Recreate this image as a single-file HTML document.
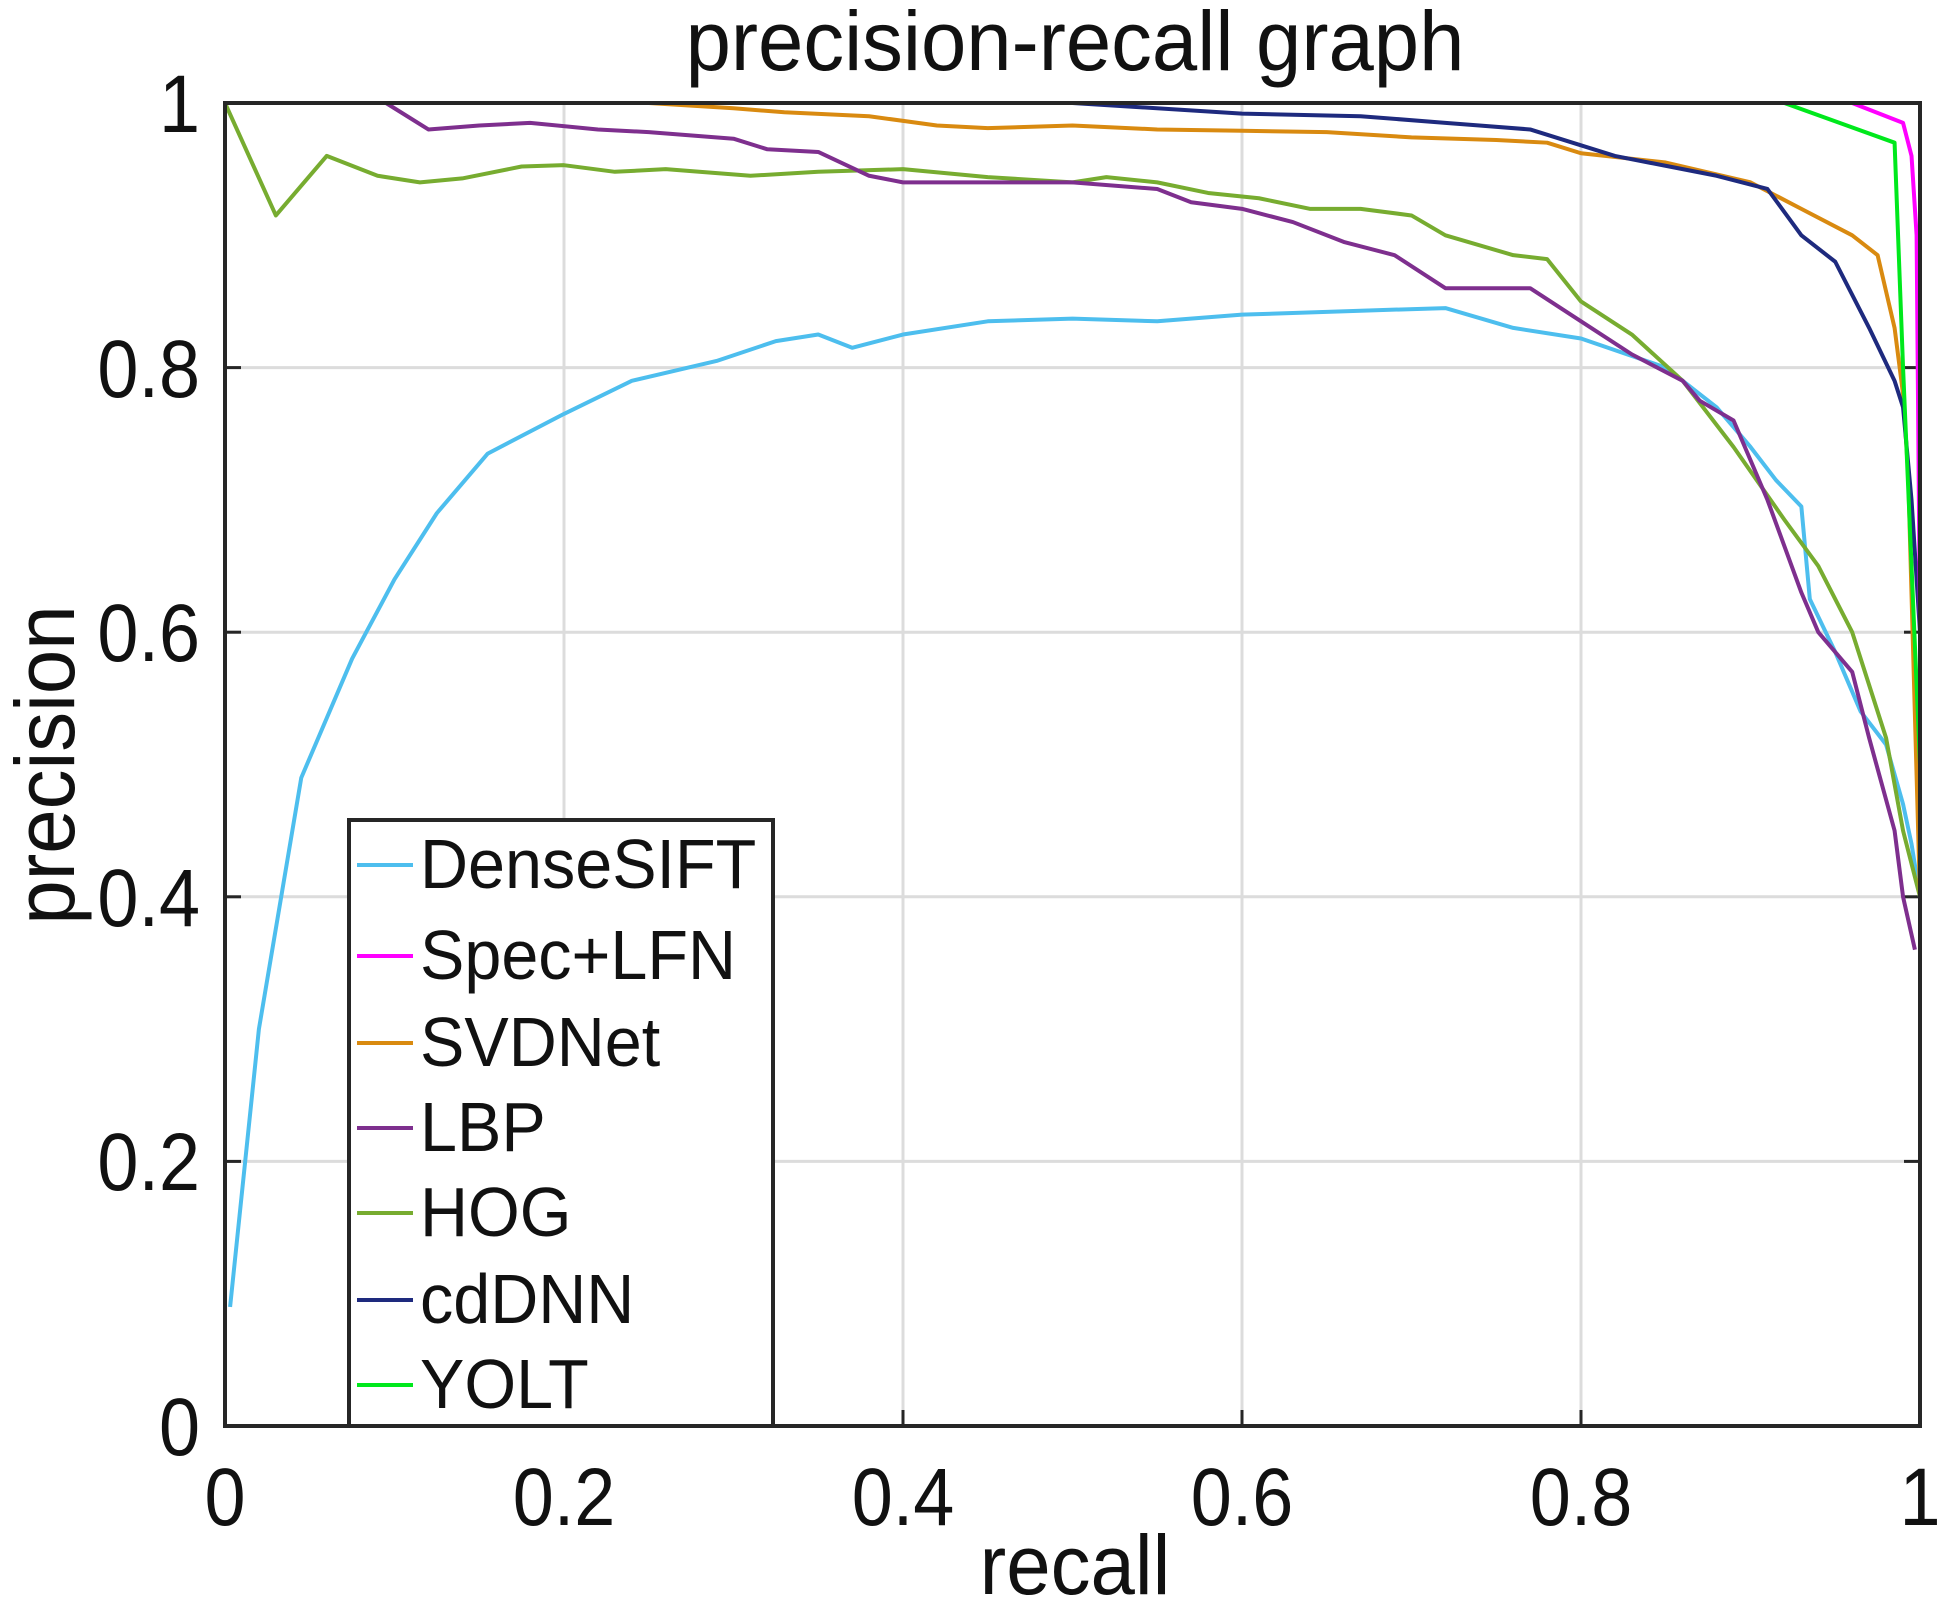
<!DOCTYPE html>
<html><head><meta charset="utf-8"><style>
html,body{margin:0;padding:0;background:#fff;}
svg{display:block;}
text{font-family:"Liberation Sans",Arial,sans-serif;fill:#111;}
</style></head><body>
<svg width="1951" height="1608" viewBox="0 0 1951 1608" xmlns="http://www.w3.org/2000/svg">
<rect width="1951" height="1608" fill="#fff"/>
<g stroke="#dcdcdc" stroke-width="3">
<line x1="564" y1="103" x2="564" y2="1426"/>
<line x1="903" y1="103" x2="903" y2="1426"/>
<line x1="1242" y1="103" x2="1242" y2="1426"/>
<line x1="1581" y1="103" x2="1581" y2="1426"/>
<line x1="225" y1="367.6" x2="1920" y2="367.6"/>
<line x1="225" y1="632.2" x2="1920" y2="632.2"/>
<line x1="225" y1="896.8" x2="1920" y2="896.8"/>
<line x1="225" y1="1161.4" x2="1920" y2="1161.4"/>
</g>
<g stroke="#262626" stroke-width="3">
<line x1="564" y1="1426" x2="564" y2="1410"/><line x1="903" y1="1426" x2="903" y2="1410"/><line x1="1242" y1="1426" x2="1242" y2="1410"/><line x1="1581" y1="1426" x2="1581" y2="1410"/>
<line x1="225" y1="367.6" x2="241" y2="367.6"/><line x1="225" y1="632.2" x2="241" y2="632.2"/><line x1="225" y1="896.8" x2="241" y2="896.8"/><line x1="225" y1="1161.4" x2="241" y2="1161.4"/>
<line x1="1920" y1="367.6" x2="1904" y2="367.6"/><line x1="1920" y1="632.2" x2="1904" y2="632.2"/><line x1="1920" y1="896.8" x2="1904" y2="896.8"/><line x1="1920" y1="1161.4" x2="1904" y2="1161.4"/>
</g>
<g transform="translate(225,1426) scale(1695,-1323)" fill="none" stroke-width="4" stroke-linejoin="round">
<polyline vector-effect="non-scaling-stroke" stroke="#4DBEEE" points="0.003,0.09 0.02,0.3 0.045,0.49 0.075,0.58 0.1,0.64 0.125,0.69 0.155,0.735 0.2,0.765 0.24,0.79 0.29,0.805 0.325,0.82 0.35,0.825 0.37,0.815 0.4,0.825 0.45,0.835 0.5,0.837 0.55,0.835 0.6,0.84 0.67,0.843 0.72,0.845 0.76,0.83 0.8,0.822 0.85,0.8 0.88,0.77 0.9,0.74 0.915,0.715 0.93,0.695 0.935,0.625 0.95,0.585 0.965,0.54 0.98,0.515 0.99,0.47 0.995,0.44 1,0.4"/>
<polyline vector-effect="non-scaling-stroke" stroke="#77AC30" points="0,1 0.03,0.915 0.06,0.96 0.09,0.945 0.115,0.94 0.14,0.943 0.175,0.952 0.2,0.953 0.23,0.948 0.26,0.95 0.31,0.945 0.35,0.948 0.4,0.95 0.45,0.944 0.5,0.94 0.52,0.944 0.55,0.94 0.58,0.932 0.61,0.928 0.64,0.92 0.67,0.92 0.7,0.915 0.72,0.9 0.76,0.885 0.78,0.882 0.8,0.85 0.83,0.825 0.86,0.79 0.89,0.74 0.92,0.685 0.94,0.65 0.96,0.6 0.98,0.52 0.99,0.45 1,0.4 1,0.36"/>
<polyline vector-effect="non-scaling-stroke" stroke="#7E2F8E" points="0,1 0.095,1 0.12,0.98 0.15,0.983 0.18,0.985 0.22,0.98 0.25,0.978 0.3,0.973 0.32,0.965 0.35,0.963 0.38,0.945 0.4,0.94 0.5,0.94 0.55,0.935 0.57,0.925 0.6,0.92 0.63,0.91 0.66,0.895 0.69,0.885 0.72,0.86 0.77,0.86 0.8,0.835 0.83,0.81 0.86,0.79 0.87,0.775 0.89,0.76 0.91,0.7 0.93,0.63 0.94,0.6 0.96,0.57 0.97,0.52 0.985,0.45 0.99,0.4 0.997,0.36"/>
<polyline vector-effect="non-scaling-stroke" stroke="#D98A10" points="0,1 0.25,1 0.3,0.996 0.33,0.993 0.38,0.99 0.42,0.983 0.45,0.981 0.5,0.983 0.55,0.98 0.6,0.979 0.65,0.978 0.7,0.974 0.75,0.972 0.78,0.97 0.8,0.962 0.85,0.955 0.9,0.94 0.93,0.92 0.96,0.9 0.975,0.885 0.985,0.83 0.99,0.78 0.993,0.72 1,0.4"/>
<polyline vector-effect="non-scaling-stroke" stroke="#1E2A7E" points="0,1 0.5,1 0.6,0.992 0.67,0.99 0.72,0.985 0.77,0.98 0.82,0.96 0.86,0.95 0.88,0.945 0.91,0.935 0.93,0.9 0.95,0.88 0.97,0.83 0.985,0.79 0.99,0.77 0.995,0.7 1,0.6"/>
<polyline vector-effect="non-scaling-stroke" stroke="#FF00FF" points="0.5,1 0.96,1 0.99,0.985 0.995,0.96 0.998,0.9 1,0.6 1,0.3"/>
<polyline vector-effect="non-scaling-stroke" stroke="#00E81C" points="0,1 0.92,1 0.985,0.97 0.99,0.8 1,0.5 1,0.1"/>
</g>
<rect x="225" y="103" width="1695" height="1323" fill="none" stroke="#262626" stroke-width="4"/>
<rect x="349" y="820" width="424" height="606" fill="#fff" stroke="#262626" stroke-width="4"/>
<g stroke-width="4">
<line x1="357" y1="865" x2="413" y2="865" stroke="#4DBEEE"/>
<line x1="357" y1="956" x2="413" y2="956" stroke="#FF00FF"/>
<line x1="357" y1="1043" x2="413" y2="1043" stroke="#D98A10"/>
<line x1="357" y1="1128" x2="413" y2="1128" stroke="#7E2F8E"/>
<line x1="357" y1="1213" x2="413" y2="1213" stroke="#77AC30"/>
<line x1="357" y1="1300" x2="413" y2="1300" stroke="#1E2A7E"/>
<line x1="357" y1="1385" x2="413" y2="1385" stroke="#00E81C"/>
</g>
<g font-size="70">
<text transform="translate(420,888) scale(0.95,1)">DenseSIFT</text>
<text transform="translate(420,979) scale(0.95,1)">Spec+LFN</text>
<text transform="translate(420,1066) scale(0.95,1)">SVDNet</text>
<text transform="translate(420,1151) scale(0.95,1)">LBP</text>
<text transform="translate(420,1236) scale(0.95,1)">HOG</text>
<text transform="translate(420,1323) scale(0.95,1)">cdDNN</text>
<text transform="translate(420,1408) scale(0.95,1)">YOLT</text>
</g>
<g font-size="82" text-anchor="middle">
<text transform="translate(225,1525) scale(0.9,1)">0</text>
<text transform="translate(564,1525) scale(0.9,1)">0.2</text>
<text transform="translate(903,1525) scale(0.9,1)">0.4</text>
<text transform="translate(1242,1525) scale(0.9,1)">0.6</text>
<text transform="translate(1581,1525) scale(0.9,1)">0.8</text>
<text transform="translate(1920,1525) scale(0.9,1)">1</text>
</g>
<g font-size="82" text-anchor="end">
<text transform="translate(200,1455) scale(0.9,1)">0</text>
<text transform="translate(200,1190) scale(0.9,1)">0.2</text>
<text transform="translate(200,926) scale(0.9,1)">0.4</text>
<text transform="translate(200,661) scale(0.9,1)">0.6</text>
<text transform="translate(200,397) scale(0.9,1)">0.8</text>
<text transform="translate(200,132) scale(0.9,1)">1</text>
</g>
<text transform="translate(1075,1594) scale(0.95,1)" font-size="84" text-anchor="middle">recall</text>
<text transform="translate(74,765) rotate(-90) scale(0.95,1)" font-size="84" text-anchor="middle">precision</text>
<text transform="translate(1075,70) scale(0.97,1)" font-size="84" text-anchor="middle">precision-recall graph</text>
</svg>
</body></html>
